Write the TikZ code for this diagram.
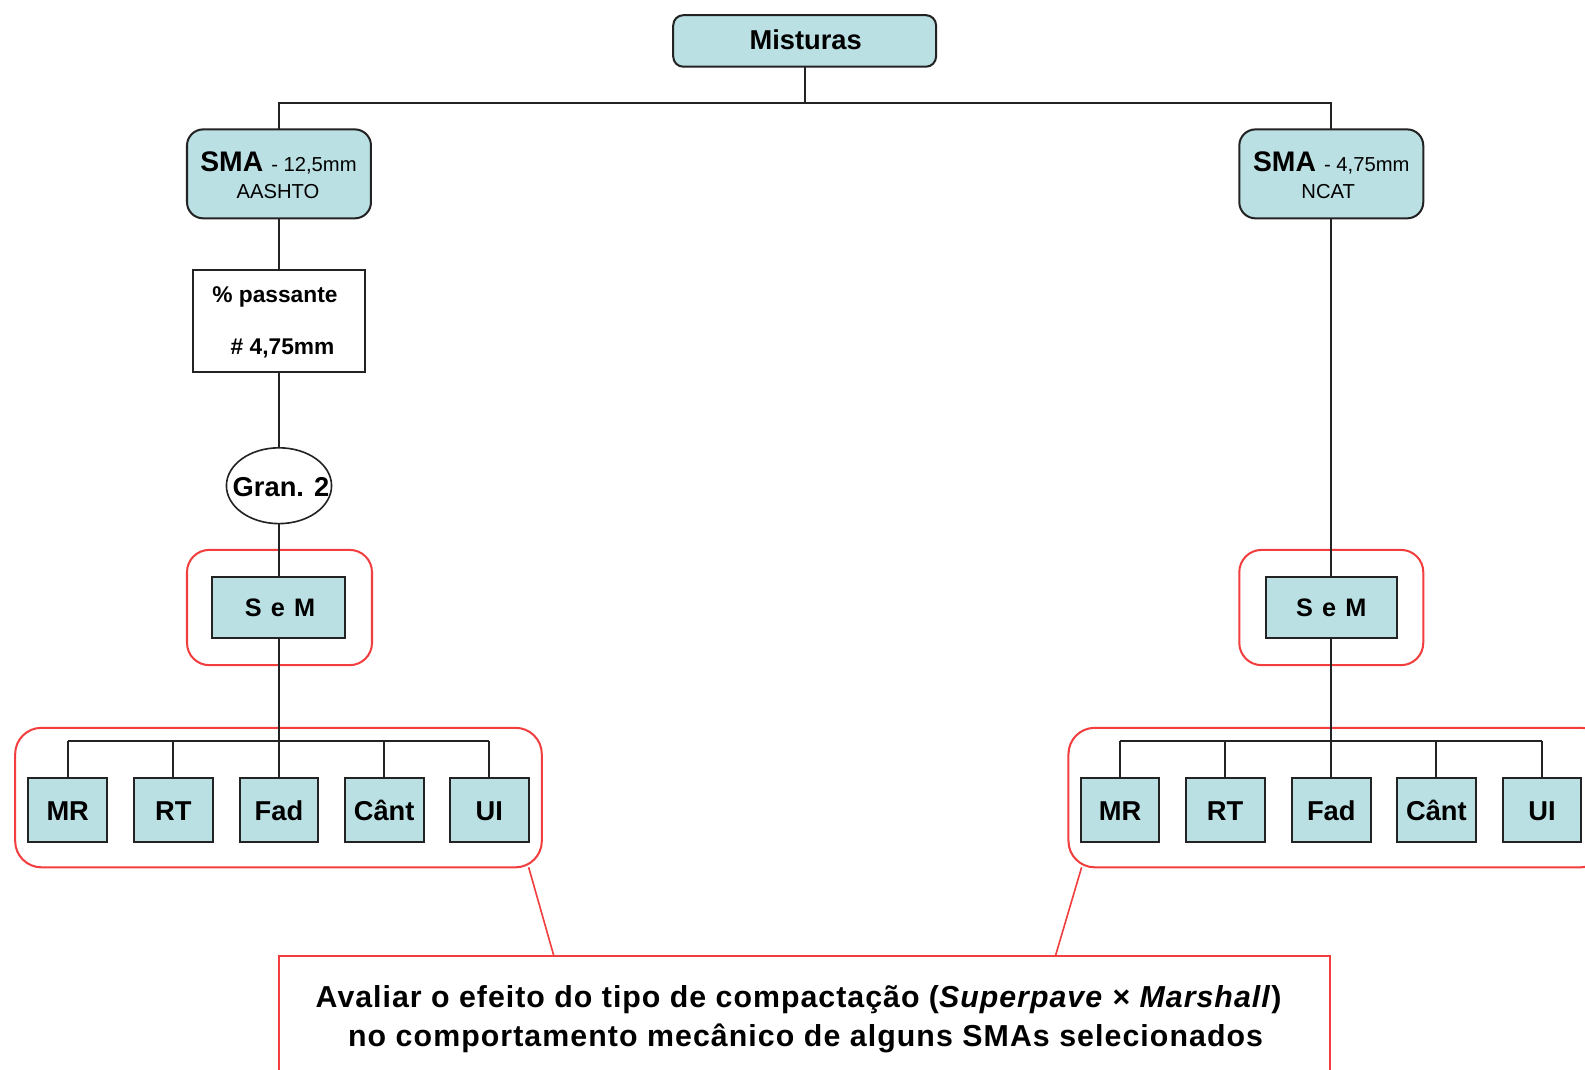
\documentclass[tikz,border=0pt]{standalone}
\usepackage{fontspec}
\setmainfont{Liberation Sans}
\usetikzlibrary{shapes.geometric}
\definecolor{boxfill}{RGB}{187,224,227}
\definecolor{grpred}{RGB}{242,62,62}
\definecolor{edgeink}{RGB}{35,35,35}
\newcommand{\fs}[1]{\fontsize{#1}{#1}\selectfont}

\begin{document}
\begin{tikzpicture}[x=1pt,y=-1pt,
  tealbox/.style={draw=edgeink, line width=2pt, fill=boxfill, inner sep=0pt},
  leafbox/.style={tealbox, minimum width=78pt, minimum height=63pt},
  roundbox/.style={tealbox, rounded corners=16pt, minimum width=182pt, minimum height=88pt},
  link/.style={draw=edgeink, line width=2pt},
  group/.style={draw=grpred, line width=2pt, rounded corners=22pt, inner sep=0pt},
  txt/.style={inner sep=0pt, anchor=base}
]
\clip (0,0) rectangle (1568,1058);
\fill[white] (0,0) rectangle (1568,1058);

% red grouping frames
\node[group, minimum width=183pt, minimum height=114pt] (grpSemL) at (276.5,601) {};
\node[group, minimum width=182pt, minimum height=114pt] (grpSemR) at (1317,601) {};
\node[group, minimum width=521pt, minimum height=138pt, rounded corners=26pt] (grpLeafL) at (275.5,789) {};
\node[group, minimum width=533pt, minimum height=138pt, rounded corners=26pt] (grpLeafR) at (1323.5,789) {};
\node[draw=grpred, line width=2pt, fill=white, minimum width=1040pt, minimum height=160pt, inner sep=0pt]
  (noteframe) at (796,1026) {};

% callout pointers
\coordinate (ptrL) at (523,858);
\coordinate (ptrR) at (1070,858);
\coordinate (ptrLend) at (548,946);
\coordinate (ptrRend) at (1044,946);
\draw[grpred, line width=1.6pt] (ptrL) -- (ptrLend);
\draw[grpred, line width=1.6pt] (ptrR) -- (ptrRend);

% connectors
\coordinate (hub) at (796,102);
\coordinate (busL) at (276,733);
\coordinate (busR) at (1317,733);
\coordinate (mistS) at (796,66);
\coordinate (smaLN) at (276,128);
\coordinate (smaRN) at (1317,128);
\draw[link] (mistS) -- (hub);
\draw[link] (smaLN) |- (hub) -| (smaRN);
\draw[link] (276,216) -- (276,571);
\draw[link] (276,631) -- (276,770);
\draw[link] (1317,216) -- (1317,571);
\draw[link] (1317,631) -- (1317,770);
\foreach \xx in {67,171.5,380,484} \draw[link] (\xx,770) -- (\xx,733);
\foreach \xx in {1108,1212,1421,1525.5} \draw[link] (\xx,770) -- (\xx,733);
\draw[link] (67,733) -- (484,733);
\draw[link] (1108,733) -- (1525.5,733);

% tree nodes
\node[tealbox, rounded corners=10pt, minimum width=260pt, minimum height=51pt] (mist) at (796,40.5) {};
\node[roundbox] (smaL) at (276,172) {};
\node[roundbox] (smaR) at (1317,172) {};
\node[draw=edgeink, line width=2pt, fill=white, minimum width=170pt, minimum height=101pt, inner sep=0pt] (pass) at (276,317.5) {};
\node[draw=edgeink, line width=1.6pt, fill=white, ellipse, minimum width=104pt, minimum height=75pt, inner sep=0pt] (gran) at (276,480.5) {};
\node[tealbox, minimum width=131pt, minimum height=60pt] (semL) at (275.5,601) {};
\node[tealbox, minimum width=130pt, minimum height=60pt] (semR) at (1317,601) {};

\foreach \nm/\xx in {mrL/67, rtL/171.5, fadL/276, cantL/380, uiL/484,
                     mrR/1108, rtR/1212, fadR/1317, cantR/1421, uiR/1525.5}
  \node[leafbox] (\nm) at (\xx,801.5) {};

% labels
\node[txt] (tMist) at (797,49) {\fs{27}\bfseries Misturas};
\node[txt] (tSmaL1) at (275.5,170) {{\fs{28}\bfseries SMA}\hspace{8pt}{\fs{20}- 12,5mm}};
\node[txt] (tSmaL2) at (275,196) {\fs{20}AASHTO};
\node[txt] (tSmaR1) at (1317,170) {{\fs{28}\bfseries SMA}\hspace{8pt}{\fs{20}- 4,75mm}};
\node[txt] (tSmaR2) at (1314,196) {\fs{20}NCAT};
\node[txt] (tPass1) at (272,299) {\fs{22.5}\bfseries \% passante};
\node[txt] (tPass2) at (279.5,351) {\fs{22.5}\bfseries \# 4,75mm};
\node[txt] (tGran) at (278,491) {\fs{27}\bfseries Gran. 2};
\node[txt] (tSemL) at (277,610) {\fs{25}\bfseries S\hspace{9pt}e\hspace{9pt}M};
\node[txt] (tSemR) at (1317,610) {\fs{25}\bfseries S\hspace{9pt}e\hspace{9pt}M};
\foreach \nm/\lab in {mrL/MR, rtL/RT, fadL/Fad, cantL/Cânt, uiL/UI,
                      mrR/MR, rtR/RT, fadR/Fad, cantR/Cânt, uiR/UI}
  \node[txt] (t\nm) at ([yshift=-10.5pt]\nm.center) {\fs{27}\bfseries \lab};
\node[txt, font=\fs{30}\bfseries\addfontfeature{LetterSpace=3.3}] (tNote) at (790,997)
  {Avaliar o efeito do tipo de compactação (\textit{Superpave} × \textit{Marshall})};
\node[txt, font=\fs{30}\bfseries\addfontfeature{LetterSpace=3.5}] (tNote2) at (797,1035)
  {no comportamento mecânico de alguns SMAs selecionados};
\end{tikzpicture}
\end{document}
